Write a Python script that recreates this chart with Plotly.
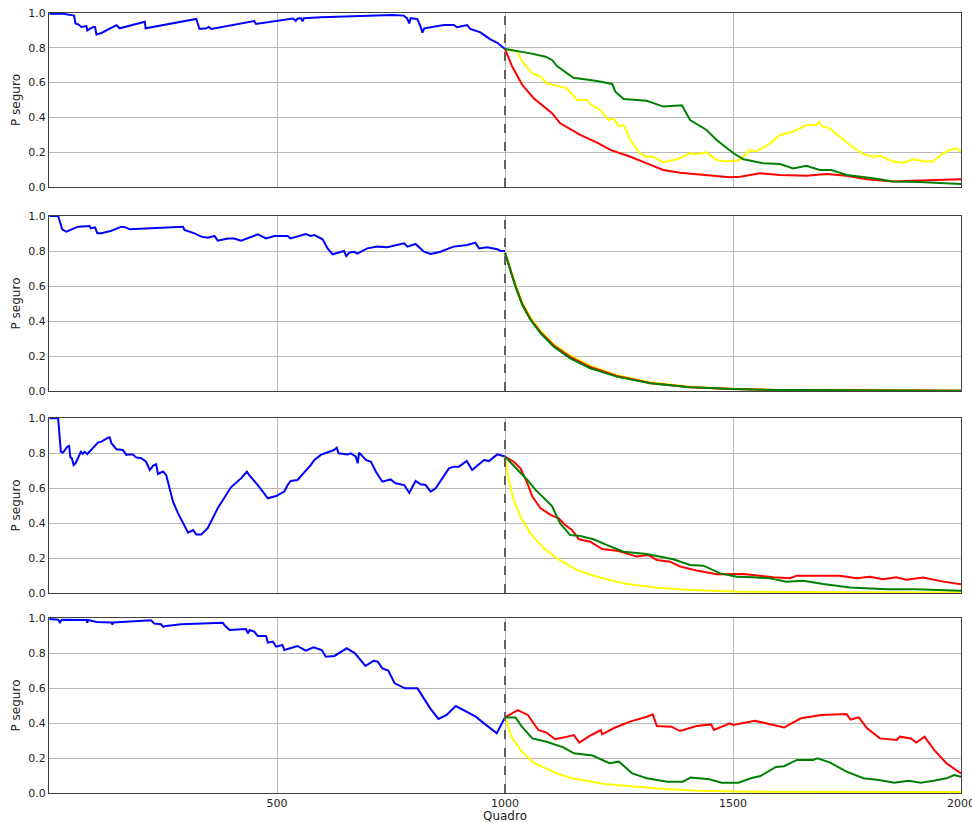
import plotly.graph_objects as go

# ---------------- data (frame, P seguro) ----------------
# Panel 1
P1_BLUE_F = [1, 31, 55, 58, 64, 71, 82, 84, 97, 101, 104, 115, 148, 155, 210, 212, 323, 330, 345, 350, 356, 365, 450, 454, 535, 541, 545, 553, 556, 559, 596, 753, 778, 785, 790, 793, 808, 815, 819, 823, 866, 888, 895, 917, 924, 946, 968, 983, 1000]
P1_BLUE_P = [0.996, 0.995, 0.985, 0.94, 0.935, 0.92, 0.925, 0.90, 0.92, 0.92, 0.877, 0.885, 0.93, 0.912, 0.95, 0.912, 0.966, 0.908, 0.912, 0.92, 0.908, 0.912, 0.954, 0.937, 0.968, 0.955, 0.968, 0.969, 0.952, 0.970, 0.975, 0.989, 0.985, 0.97, 0.94, 0.97, 0.965, 0.921, 0.887, 0.912, 0.931, 0.931, 0.918, 0.931, 0.908, 0.889, 0.849, 0.829, 0.793]
P1_RED_F = [1000, 1016, 1038, 1063, 1103, 1121, 1165, 1202, 1231, 1275, 1311, 1347, 1384, 1442, 1493, 1516, 1559, 1603, 1661, 1705, 1749, 1793, 1851, 1909, 1953, 1970, 2000]
P1_RED_P = [0.793, 0.691, 0.586, 0.51, 0.424, 0.366, 0.299, 0.255, 0.213, 0.174, 0.136, 0.098, 0.082, 0.069, 0.056, 0.059, 0.079, 0.069, 0.065, 0.075, 0.065, 0.044, 0.031, 0.037, 0.04, 0.044, 0.044]
P1_GREEN_F = [1000, 1034, 1056, 1089, 1103, 1114, 1136, 1150, 1202, 1235, 1242, 1260, 1311, 1347, 1388, 1406, 1442, 1464, 1501, 1523, 1566, 1603, 1632, 1661, 1690, 1716, 1749, 1807, 1851, 1909, 2000]
P1_GREEN_P = [0.793, 0.778, 0.768, 0.749, 0.73, 0.695, 0.657, 0.628, 0.609, 0.592, 0.548, 0.506, 0.496, 0.462, 0.47, 0.385, 0.328, 0.27, 0.194, 0.159, 0.136, 0.132, 0.107, 0.122, 0.098, 0.098, 0.069, 0.05, 0.031, 0.029, 0.017]
P1_YELLOW_F = [1000, 1027, 1038, 1060, 1078, 1092, 1121, 1136, 1158, 1180, 1187, 1209, 1227, 1238, 1249, 1260, 1275, 1296, 1311, 1325, 1347, 1377, 1406, 1420, 1442, 1464, 1486, 1515, 1537, 1551, 1581, 1603, 1632, 1661, 1683, 1689, 1694, 1712, 1734, 1756, 1785, 1807, 1822, 1851, 1873, 1895, 1924, 1938, 1961, 1975, 1990, 2000]
P1_YELLOW_P = [0.793, 0.778, 0.72, 0.653, 0.634, 0.596, 0.577, 0.567, 0.5, 0.5, 0.477, 0.443, 0.385, 0.394, 0.351, 0.356, 0.27, 0.194, 0.174, 0.174, 0.142, 0.159, 0.194, 0.19, 0.199, 0.155, 0.146, 0.155, 0.213, 0.204, 0.251, 0.299, 0.318, 0.356, 0.356, 0.375, 0.351, 0.337, 0.289, 0.241, 0.19, 0.174, 0.18, 0.146, 0.14, 0.159, 0.146, 0.146, 0.194, 0.213, 0.222, 0.203]

# Panel 2
P2_BLUE_F = [1, 20, 24, 29, 38, 64, 89, 92, 101, 106, 115, 137, 159, 168, 177, 210, 246, 294, 297, 319, 334, 348, 363, 370, 392, 406, 421, 458, 476, 494, 523, 530, 563, 574, 582, 600, 611, 622, 647, 652, 658, 669, 676, 698, 720, 742, 779, 786, 804, 822, 837, 859, 877, 888, 917, 935, 943, 961, 983, 990, 1000]
P2_BLUE_P = [1.0, 1.0, 0.967, 0.924, 0.91, 0.939, 0.943, 0.93, 0.935, 0.901, 0.901, 0.916, 0.939, 0.935, 0.924, 0.928, 0.931, 0.939, 0.92, 0.901, 0.882, 0.876, 0.886, 0.859, 0.872, 0.871, 0.859, 0.895, 0.872, 0.886, 0.886, 0.872, 0.897, 0.886, 0.891, 0.867, 0.815, 0.781, 0.80, 0.771, 0.79, 0.796, 0.785, 0.815, 0.825, 0.821, 0.844, 0.825, 0.84, 0.796, 0.783, 0.796, 0.815, 0.825, 0.834, 0.848, 0.815, 0.821, 0.81, 0.802, 0.80]
P2_DECAY_F = [1000, 1012, 1023, 1038, 1056, 1078, 1107, 1143, 1187, 1245, 1318, 1406, 1501, 1600, 1750, 2000]
P2_RED_P = [0.79, 0.684, 0.60, 0.497, 0.41, 0.336, 0.26, 0.195, 0.137, 0.086, 0.046, 0.022, 0.011, 0.006, 0.003, 0.001]
P2_GREEN_P = [0.79, 0.682, 0.596, 0.491, 0.406, 0.33, 0.253, 0.187, 0.13, 0.082, 0.044, 0.021, 0.011, 0.006, 0.003, 0.001]
P2_YELLOW_P = [0.79, 0.69, 0.61, 0.505, 0.42, 0.345, 0.268, 0.203, 0.145, 0.092, 0.05, 0.024, 0.012, 0.006, 0.003, 0.001]

# Panel 3
P3_BLUE_F = [1, 20, 26, 31, 40, 44, 47, 50, 54, 58, 70, 74, 78, 84, 108, 115, 130, 133, 137, 148, 162, 170, 173, 184, 191, 202, 213, 221, 228, 235, 239, 250, 257, 272, 283, 305, 316, 323, 334, 348, 370, 399, 421, 434, 440, 458, 480, 498, 516, 520, 524, 530, 545, 574, 582, 596, 611, 625, 631, 635, 655, 662, 673, 677, 680, 695, 706, 717, 731, 749, 760, 779, 790, 804, 815, 826, 837, 848, 877, 888, 899, 916, 928, 954, 965, 983, 1000]
P3_BLUE_P = [0.998, 1.0, 0.807, 0.802, 0.836, 0.84, 0.775, 0.77, 0.731, 0.74, 0.807, 0.796, 0.807, 0.794, 0.861, 0.865, 0.888, 0.89, 0.856, 0.821, 0.817, 0.789, 0.792, 0.792, 0.775, 0.77, 0.75, 0.703, 0.727, 0.736, 0.68, 0.694, 0.675, 0.522, 0.455, 0.345, 0.36, 0.335, 0.335, 0.37, 0.484, 0.604, 0.655, 0.693, 0.67, 0.617, 0.541, 0.554, 0.58, 0.60, 0.62, 0.64, 0.646, 0.731, 0.76, 0.789, 0.802, 0.817, 0.83, 0.798, 0.792, 0.798, 0.779, 0.741, 0.802, 0.76, 0.75, 0.693, 0.636, 0.649, 0.627, 0.617, 0.573, 0.64, 0.621, 0.617, 0.579, 0.598, 0.712, 0.722, 0.722, 0.754, 0.703, 0.76, 0.754, 0.792, 0.78]
P3_RED_F = [1000, 1019, 1034, 1049, 1060, 1078, 1100, 1118, 1132, 1147, 1162, 1187, 1213, 1245, 1289, 1315, 1333, 1362, 1384, 1421, 1464, 1523, 1588, 1625, 1640, 1734, 1771, 1800, 1829, 1858, 1880, 1917, 1961, 2000]
P3_RED_P = [0.779, 0.75, 0.712, 0.627, 0.551, 0.484, 0.446, 0.427, 0.389, 0.36, 0.307, 0.293, 0.251, 0.242, 0.208, 0.217, 0.189, 0.179, 0.151, 0.128, 0.107, 0.109, 0.09, 0.084, 0.099, 0.099, 0.084, 0.093, 0.078, 0.09, 0.076, 0.088, 0.065, 0.05]
P3_GREEN_F = [1000, 1027, 1049, 1067, 1085, 1103, 1121, 1143, 1165, 1194, 1224, 1260, 1311, 1341, 1369, 1406, 1435, 1472, 1508, 1545, 1581, 1617, 1654, 1698, 1756, 1837, 1900, 2000]
P3_GREEN_P = [0.779, 0.703, 0.646, 0.589, 0.541, 0.497, 0.398, 0.331, 0.326, 0.307, 0.274, 0.236, 0.223, 0.208, 0.193, 0.16, 0.156, 0.112, 0.093, 0.09, 0.084, 0.065, 0.07, 0.051, 0.032, 0.021, 0.021, 0.013]
P3_YELLOW_F = [1000, 1002, 1008, 1019, 1034, 1056, 1085, 1114, 1158, 1202, 1260, 1333, 1406, 1501, 1700, 2000]
P3_YELLOW_P = [0.779, 0.75, 0.646, 0.531, 0.436, 0.341, 0.255, 0.198, 0.131, 0.093, 0.055, 0.03, 0.017, 0.008, 0.004, 0.003]

# Panel 4
P4_BLUE_F = [1, 20, 24, 28, 82, 84, 86, 104, 137, 139, 141, 224, 231, 246, 250, 257, 290, 312, 381, 385, 396, 432, 436, 440, 450, 458, 476, 480, 491, 498, 512, 516, 531, 545, 563, 580, 598, 607, 626, 653, 671, 694, 712, 721, 731, 744, 758, 781, 808, 822, 836, 854, 872, 892, 909, 936, 954, 982, 1000]
P4_BLUE_P = [0.994, 0.99, 0.975, 0.99, 0.989, 0.974, 0.989, 0.977, 0.975, 0.962, 0.975, 0.987, 0.968, 0.964, 0.95, 0.954, 0.964, 0.966, 0.973, 0.958, 0.931, 0.937, 0.912, 0.931, 0.922, 0.897, 0.897, 0.859, 0.865, 0.836, 0.846, 0.817, 0.827, 0.84, 0.813, 0.832, 0.817, 0.779, 0.783, 0.827, 0.798, 0.726, 0.756, 0.751, 0.712, 0.70, 0.627, 0.598, 0.598, 0.541, 0.484, 0.423, 0.446, 0.497, 0.474, 0.436, 0.398, 0.341, 0.432]
P4_RED_F = [1000, 1028, 1050, 1073, 1091, 1110, 1130, 1151, 1163, 1183, 1210, 1213, 1238, 1274, 1311, 1324, 1333, 1365, 1384, 1420, 1452, 1458, 1493, 1500, 1548, 1585, 1612, 1649, 1694, 1749, 1758, 1776, 1794, 1822, 1859, 1866, 1890, 1902, 1920, 1941, 1968, 2000]
P4_RED_P = [0.432, 0.474, 0.446, 0.36, 0.345, 0.307, 0.318, 0.331, 0.288, 0.322, 0.36, 0.335, 0.37, 0.408, 0.436, 0.45, 0.383, 0.379, 0.354, 0.383, 0.392, 0.36, 0.398, 0.389, 0.413, 0.389, 0.374, 0.427, 0.446, 0.451, 0.42, 0.432, 0.37, 0.312, 0.303, 0.322, 0.312, 0.288, 0.322, 0.246, 0.17, 0.112]
P4_GREEN_F = [1000, 1023, 1037, 1060, 1091, 1128, 1151, 1192, 1229, 1250, 1279, 1311, 1356, 1390, 1407, 1448, 1475, 1512, 1539, 1560, 1594, 1612, 1640, 1676, 1685, 1712, 1749, 1786, 1820, 1854, 1885, 1912, 1940, 1968, 1985, 2000]
P4_GREEN_P = [0.432, 0.432, 0.379, 0.312, 0.293, 0.261, 0.227, 0.214, 0.17, 0.179, 0.112, 0.084, 0.065, 0.065, 0.088, 0.078, 0.059, 0.059, 0.084, 0.097, 0.149, 0.153, 0.189, 0.189, 0.198, 0.175, 0.122, 0.084, 0.074, 0.059, 0.07, 0.059, 0.07, 0.084, 0.103, 0.093]
P4_YELLOW_F = [1000, 1014, 1037, 1064, 1110, 1146, 1219, 1329, 1420, 1512, 2000]
P4_YELLOW_P = [0.432, 0.322, 0.236, 0.17, 0.116, 0.084, 0.051, 0.027, 0.013, 0.008, 0.006]

Y_TICKS = [0.0, 0.2, 0.4, 0.6, 0.8, 1.0]
Y_TICK_TEXT = ["0.0", "0.2", "0.4", "0.6", "0.8", "1.0"]
X_TICKS = [500, 1000, 1500, 2000]
X_TICK_TEXT = ["500", "1000", "1500", "2000"]
SPLIT_FRAME = 1000

PANELS = [
    (P1_BLUE_F, P1_BLUE_P, P1_YELLOW_F, P1_YELLOW_P, P1_RED_F, P1_RED_P, P1_GREEN_F, P1_GREEN_P),
    (P2_BLUE_F, P2_BLUE_P, P2_DECAY_F, P2_YELLOW_P, P2_DECAY_F, P2_RED_P, P2_DECAY_F, P2_GREEN_P),
    (P3_BLUE_F, P3_BLUE_P, P3_YELLOW_F, P3_YELLOW_P, P3_RED_F, P3_RED_P, P3_GREEN_F, P3_GREEN_P),
    (P4_BLUE_F, P4_BLUE_P, P4_YELLOW_F, P4_YELLOW_P, P4_RED_F, P4_RED_P, P4_GREEN_F, P4_GREEN_P),
]

# ---------------- figure ----------------
W, H = 972, 823
ML, MR, MT, MB = 49, 11, 13, 30
plot_h = H - MT - MB
# pixel tops / bottoms of the four panels
panel_px = [(13, 187), (216, 391), (418, 593), (618, 793)]

fig = go.Figure()
FONT = "DejaVu Sans"
colors = {"blue": "#0000ff", "yellow": "#ffff00", "red": "#ff0000", "green": "#008000"}

for i, (bf, bp, yf, yp, rf, rp, gf, gp) in enumerate(PANELS):
    n = "" if i == 0 else str(i + 1)
    xa, ya = "x" + n, "y" + n
    for fx, py, c in [(bf, bp, "blue"), (yf, yp, "yellow"), (rf, rp, "red"), (gf, gp, "green")]:
        fig.add_trace(go.Scatter(x=fx, y=py, mode="lines", xaxis=xa, yaxis=ya,
                                 line=dict(color=colors[c], width=2), showlegend=False,
                                 hoverinfo="skip"))
    top, bot = panel_px[i]
    d0 = (H - MB - bot) / plot_h
    d1 = (H - MB - top) / plot_h
    last = i == 3
    fig.layout["xaxis" + n] = dict(
        domain=[0, 1], range=[0, 2000], anchor=ya,
        tickvals=X_TICKS, ticktext=X_TICK_TEXT if last else [""] * 4,
        showticklabels=last, showgrid=True, gridcolor="#b8b8b8", gridwidth=1,
        showline=True, linecolor="#404040", linewidth=1.3, mirror=True,
        zeroline=False, ticks="", automargin=False, ticklabeloverflow="allow",
        tickfont=dict(family=FONT, size=11, color="#222"),
        title=dict(text="Quadro", font=dict(family=FONT, size=12, color="#222"), standoff=6) if last else None,
    )
    fig.layout["yaxis" + n] = dict(
        domain=[d0, d1], range=[0, 1], anchor=xa,
        tickvals=Y_TICKS, ticktext=Y_TICK_TEXT,
        showgrid=True, gridcolor="#b8b8b8", gridwidth=1,
        showline=True, linecolor="#404040", linewidth=1.3, mirror=True,
        zeroline=False, ticks="", automargin=False,
        tickfont=dict(family=FONT, size=11, color="#222"),
        title=dict(text="P seguro", font=dict(family=FONT, size=12, color="#222"), standoff=4),
    )
    fig.add_shape(type="line", xref=xa, yref=ya + " domain", x0=SPLIT_FRAME, x1=SPLIT_FRAME,
                  y0=0, y1=1, line=dict(color="#606060", width=2, dash="dash"))

fig.update_layout(width=W, height=H, margin=dict(l=ML, r=MR, t=MT, b=MB),
                  paper_bgcolor="white", plot_bgcolor="white",
                  font=dict(family=FONT, color="#222"))

fig.write_html("out.html", config={"displayModeBar": False},
               post_script="document.body.style.margin='0';document.body.style.padding='0';document.body.style.overflow='hidden';")
